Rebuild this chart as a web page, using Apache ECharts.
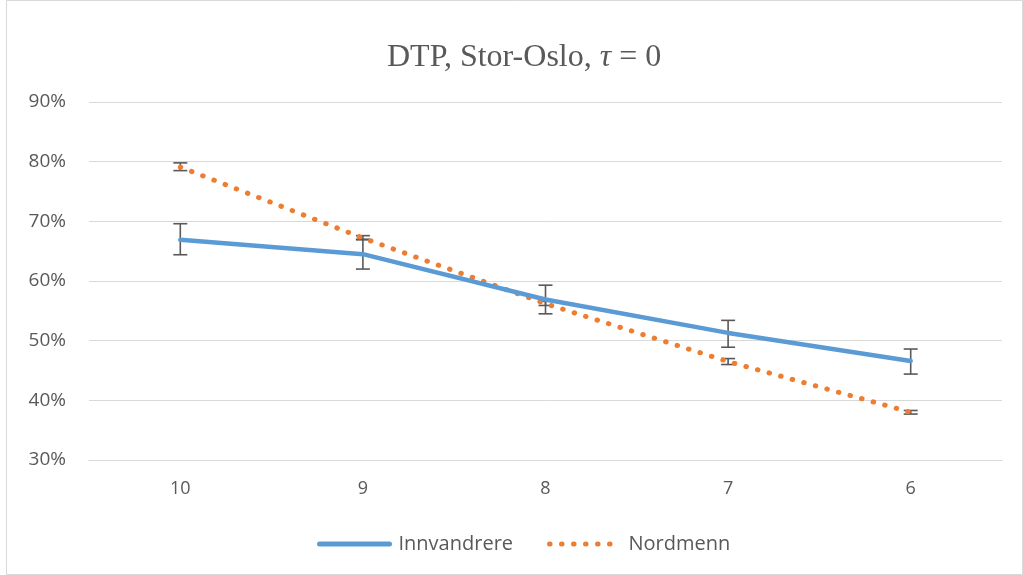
<!DOCTYPE html>
<html><head><meta charset="utf-8">
<script src="https://cdn.jsdelivr.net/npm/echarts@6/dist/echarts.min.js"></script>
<style>html,body{margin:0;padding:0;background:#fff}#c{width:1023px;height:575px}</style>
</head><body><div id="c"></div>
<script>
const categories = ['10', '9', '8', '7', '6'];
const innvandrere = [66.9, 64.5, 56.9, 51.3, 46.6];
const innvandrereLow = [64.4, 62.0, 54.5, 48.9, 44.4];
const innvandrereHigh = [69.6, 67.0, 59.3, 53.4, 48.6];
const nordmenn = [79.1, 67.2, 56.2, 46.5, 38.0];
const nordmennLow = [78.5, 66.9, 55.9, 46.0, 37.7];
const nordmennHigh = [79.8, 67.6, 56.6, 47.0, 38.3];
const yTicks = [30, 40, 50, 60, 70, 80, 90];

const chart = echarts.init(document.getElementById('c'));
function errData(lo, hi) { return categories.map((c, i) => [i, lo[i], hi[i]]); }
function errItem(params, api) {
  const x = api.value(0);
  const lo = api.coord([x, api.value(1)]);
  const hi = api.coord([x, api.value(2)]);
  const w = 7;
  const st = { stroke: '#595959', lineWidth: 1.6 };
  return { type: 'group', children: [
    { type: 'line', shape: { x1: hi[0], y1: hi[1], x2: lo[0], y2: lo[1] }, style: st },
    { type: 'line', shape: { x1: hi[0] - w, y1: hi[1], x2: hi[0] + w, y2: hi[1] }, style: st },
    { type: 'line', shape: { x1: lo[0] - w, y1: lo[1], x2: lo[0] + w, y2: lo[1] }, style: st }
  ]};
}
chart.setOption({
  animation: false,
  backgroundColor: '#fff',
  title: {
    text: '{a|DTP, Stor-Oslo, }{b|τ}{a| = 0}',
    left: 382, top: 37,
    textStyle: { fontWeight: 'normal', rich: {
      a: { fontFamily: 'Liberation Serif', fontSize: 32, color: '#595959', fontWeight: 'normal' },
      b: { fontFamily: 'Liberation Serif', fontSize: 32, color: '#595959', fontStyle: 'italic', fontWeight: 'normal' }
    }}
  },
  graphic: [{ type: 'rect', shape: { x: 6.5, y: 0.5, width: 1016, height: 574 }, style: { fill: 'none', stroke: '#d9d9d9', lineWidth: 1 }, silent: true }],
  legend: {
    data: ['Innvandrere', 'Nordmenn'], bottom: 16, left: 312,
    itemWidth: 70, itemHeight: 14, itemGap: 34,
    itemStyle: { opacity: 0 },
    lineStyle: { width: 5 },
    textStyle: { fontFamily: 'Open Sans', fontSize: 20, color: '#595959', padding: [0, 0, 0, 4] }
  },
  grid: { left: 89, right: 21, top: 102, bottom: 115 },
  xAxis: {
    type: 'category', data: categories, boundaryGap: true,
    axisLine: { lineStyle: { color: '#d9d9d9', width: 1 } },
    axisTick: { show: false },
    axisLabel: { fontFamily: 'Open Sans', fontSize: 18, color: '#595959', margin: 20 }
  },
  yAxis: {
    type: 'value', min: 30, max: 90, interval: 10,
    axisLine: { show: false }, axisTick: { show: false },
    splitLine: { lineStyle: { color: '#d9d9d9', width: 1 } },
    axisLabel: { fontFamily: 'Open Sans', fontSize: 19, color: '#595959', margin: 23, formatter: v => v + '%' }
  },
  series: [
    { name: 'errI', type: 'custom', renderItem: errItem, data: errData(innvandrereLow, innvandrereHigh), z: 1, silent: true },
    { name: 'errN', type: 'custom', renderItem: errItem, data: errData(nordmennLow, nordmennHigh), z: 1, silent: true },
    { name: 'Innvandrere', type: 'line', data: innvandrere, symbol: 'none', showSymbol: false, z: 3,
      itemStyle: { color: '#5B9BD5' },
      lineStyle: { color: '#5B9BD5', width: 4.5, cap: 'round', join: 'round' } },
    { name: 'Nordmenn', type: 'line', data: nordmenn, symbol: 'none', showSymbol: false, z: 2,
      itemStyle: { color: '#ED7D31' },
      lineStyle: { color: '#ED7D31', width: 5, type: [0.5, 11.5], cap: 'round' } }
  ]
});
</script></body></html>
